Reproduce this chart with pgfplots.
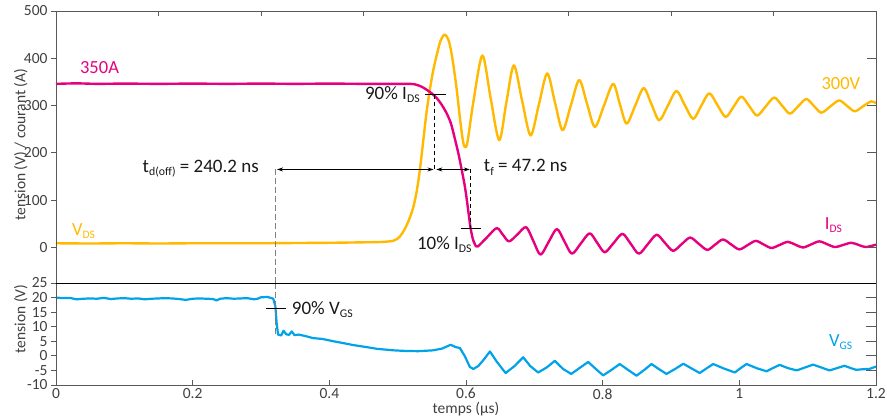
\documentclass[border=0pt]{standalone}
\usepackage{fontspec}
\setmainfont{Carlito}
\usepackage{graphicx}
\usepackage{pgfplots}
\pgfplotsset{compat=1.18}
\usetikzlibrary{arrows.meta}
\definecolor{mag}{HTML}{E6007E}
\definecolor{ora}{HTML}{FFB900}
\definecolor{blu}{HTML}{00A3E8}
\definecolor{axc}{HTML}{595959}
\newcommand\sub[1]{\raisebox{-0.35ex}{\scalebox{0.62}{#1}}}
\pgfplotsset{
  myax/.style={scale only axis, width=820pt, xmin=0, xmax=1.2, clip=false,
    axis line style={draw=axc, line width=0.9pt},
    tick style={draw=axc, line width=0.9pt},
    ticklabel style={font=\fontsize{15.5}{18}\selectfont, text=black!75},
    label style={font=\fontsize{15.5}{18}\selectfont, text=black!75},
    /pgf/number format/assume math mode=true},
}
\tikzset{
  ann/.style={font=\fontsize{19}{22}\selectfont, text=black!90, inner sep=0pt},
  lab/.style={font=\fontsize{18.5}{22}\selectfont, inner sep=0pt},
}
\begin{document}
\begin{tikzpicture}[x=1pt,y=1pt]
\useasboundingbox (-56pt,-35pt) rectangle (831pt,385pt);
% ---------------- lower axis (V_GS) ----------------
\begin{axis}[myax, name=low, at={(0pt,0pt)}, anchor=south west, height=102pt,
  ymin=-10, ymax=25, ytick={-10,-5,0,5,10,15,20,25},
  xtick={0,0.2,0.4,0.6,0.8,1,1.2},
  xtick pos=left, xtick align=inside, ytick pos=left, ytick align=outside,
  major tick length=5pt,
  xlabel={temps (µs)}, ylabel={tension (V)},
  xlabel style={at={(axis description cs:0.5,-0.232)}, anchor=center},
  ylabel style={at={(axis description cs:-0.043,0.647)}, anchor=center}]
\addplot[blu, line width=2.2pt, line join=round] coordinates {
(0,20) (0.01,19.8) (0.02,19.9) (0.03,19.4) (0.04,19.6) (0.05,19.7) (0.06,19.6) (0.07,19.9) (0.08,19.5) (0.09,19.7)
(0.1,19.8) (0.11,19.6) (0.12,19.7) (0.13,19.4) (0.14,19.6) (0.15,19.7) (0.16,19.8) (0.17,19.7) (0.18,19.5) (0.19,19.2)
(0.2,19.6) (0.21,19.7) (0.22,19.6) (0.23,19.5) (0.235,19.0) (0.24,19.6) (0.25,19.8) (0.26,19.6) (0.27,19.7) (0.28,19.8)
(0.29,19.4) (0.295,19.6) (0.30,20.1) (0.31,20.2) (0.318,19.6) (0.321,17) (0.323,11) (0.325,7.3) (0.3295,7) (0.333,8.6)
(0.337,7.4) (0.341,7.2) (0.345,8.4) (0.349,7.1) (0.355,7.3) (0.365,6.8) (0.376,6.1) (0.39,5.8) (0.406,5) (0.42,4.4)
(0.435,3.7) (0.4546,3) (0.47,2.4) (0.4935,1.9) (0.51,1.7) (0.53,1.6) (0.552,1.9) (0.565,2.5) (0.5775,3.8) (0.585,3)
(0.591,2.7) (0.598,0) (0.6057,-3.8) (0.6106,-4.5) (0.618,-3.5) (0.627,-1) (0.635,1.5) (0.645,-2) (0.658,-5.9) (0.671,-3.5)
(0.6837,-0.5) (0.694,-3.5) (0.7056,-5.7) (0.718,-4) (0.730,-1.7) (0.742,-4.5) (0.754,-6.2) (0.766,-4.2) (0.7788,-2.1) (0.79,-4.5)
(0.8007,-6.7) (0.813,-4.8) (0.825,-2.8) (0.837,-4.8) (0.8496,-6.8) (0.861,-4.8) (0.8715,-2.8) (0.882,-4.5) (0.8934,-6.2) (0.906,-4.5)
(0.918,-2.7) (0.93,-4.3) (0.942,-5.9) (0.952,-4.3) (0.9617,-2.8) (0.978,-4.4) (0.9934,-5.7) (1.002,-4.2) (1.0105,-2.8) (1.025,-4.2)
(1.0398,-5.3) (1.049,-4.2) (1.059,-3.1) (1.071,-4.2) (1.084,-5) (1.096,-4) (1.108,-3) (1.12,-4) (1.132,-5) (1.143,-4.2)
(1.154,-3.4) (1.163,-4.2) (1.171,-4.8) (1.18,-4.6) (1.19,-4.5) (1.2,-3.7)
};
\draw[gray, line width=1.2pt, dash pattern=on 6pt off 3pt] (0.3214,25) -- (0.3214,7.3);
\draw[black, line width=0.9pt] (0.307,16.2) -- (0.3365,16.2);
\node[ann, anchor=base west] at (0.345,14.1) {90\% V\sub{GS}};
\node[lab, text=blu, anchor=base west] at (1.131,3.24) {V\sub{GS}};
\end{axis}
\begin{axis}[myax, at={(0pt,0pt)}, anchor=south west, height=102pt,
  ymin=-10, ymax=25, hide x axis, ytick={-5,0,5,10,15,20}, yticklabels={},
  ytick pos=right, ytick align=inside, major tick length=10pt]
\end{axis}
% ---------------- upper axis (V_DS, I_DS) ----------------
\begin{axis}[myax, name=top, at={(0pt,102pt)}, anchor=south west, height=272pt,
  ymin=-75, ymax=500, ytick={0,100,200,300,400,500},
  xtick={0.15,0.3,0.45,0.6,0.75,0.9,1.05}, xticklabels={},
  xtick pos=right, xtick align=inside, ytick pos=left, ytick align=outside,
  major tick length=5pt,
  ylabel={tension (V) / courant (A)},
  ylabel style={at={(axis description cs:-0.043,0.509)}, anchor=center}]
\addplot[ora, line width=2.4pt, smooth, line join=round] coordinates {
(0,9) (0.05,8.5) (0.1,9) (0.15,8.5) (0.2,9) (0.25,9) (0.3,9) (0.35,9.5) (0.4,10) (0.45,11) (0.48,12)
(0.495,15) (0.503,23) (0.51,38) (0.517,60) (0.523,86) (0.528,120) (0.5325,164) (0.537,220) (0.542,283) (0.547,333)
(0.552,374) (0.558,412) (0.563,438) (0.569,450) (0.575,436) (0.580,400) (0.586,339) (0.591,275) (0.595,230) (0.598,213)
(0.602,222) (0.611,310) (0.624,406) (0.636,316) (0.6486,227) (0.659,306) (0.670,385) (0.682,311) (0.6945,237) (0.7066,302)
(0.7188,368) (0.730,308) (0.7413,248) (0.7535,301) (0.7657,354) (0.777,304.5) (0.7886,255) (0.802,300.5) (0.8154,346) (0.825,304)
(0.835,262) (0.8475,299.5) (0.860,337) (0.8714,303) (0.8827,269) (0.8954,300) (0.908,331) (0.920,301.5) (0.9325,272) (0.944,299)
(0.956,326) (0.968,301) (0.980,276) (0.9915,297.5) (1.003,319) (1.0145,299) (1.026,279) (1.0385,298) (1.051,317) (1.0625,300)
(1.074,283) (1.086,298.5) (1.098,314) (1.109,299.5) (1.120,285) (1.133,298) (1.146,311) (1.1575,299.5) (1.169,288) (1.181,298.5)
(1.193,309) (1.2,305)
};
\addplot[mag, line width=2.4pt, smooth, line join=round] coordinates {
(0,346) (0.03,347) (0.06,346) (0.1,346.5) (0.15,346) (0.2,346.5) (0.25,346) (0.3,346.5) (0.35,346) (0.4,346.5) (0.45,346)
(0.5,346) (0.515,346) (0.525,345) (0.535,340) (0.545,331) (0.5545,320) (0.563,305) (0.5716,284) (0.578,262) (0.5837,230)
(0.589,198) (0.5935,166) (0.598,132) (0.6008,105) (0.604,70) (0.6066,42) (0.610,18) (0.613,7) (0.617,2) (0.631,22)
(0.645,41) (0.654,27) (0.663,13) (0.6755,28) (0.688,43) (0.6985,14) (0.709,-15) (0.721,12) (0.733,39) (0.744,13)
(0.755,-13) (0.768,8.5) (0.781,30) (0.792,10) (0.803,-10) (0.816,9.5) (0.829,29) (0.841,8) (0.853,-13) (0.866,7)
(0.879,27) (0.891,10) (0.903,-7) (0.9155,7) (0.928,21) (0.9405,8) (0.953,-5) (0.9645,6) (0.976,17) (0.988,6.5)
(1.000,-4) (1.012,5) (1.024,14) (1.0355,6.5) (1.047,-1) (1.059,5.5) (1.071,12) (1.082,6) (1.093,0) (1.105,6.5)
(1.117,13) (1.1285,7) (1.140,1) (1.152,5.5) (1.164,10) (1.1745,5.5) (1.185,1) (1.2,6)
};
% annotations
\draw[gray, line width=1.2pt, dash pattern=on 6pt off 3pt] (0.3214,165) -- (0.3214,-75);
\draw[black, line width=0.9pt, dash pattern=on 4pt off 3pt] (0.5545,323) -- (0.5545,165);
\draw[black, line width=0.9pt, dash pattern=on 4pt off 3pt] (0.6066,165) -- (0.6066,40);
\draw[black, line width=0.9pt] (0.540,323) -- (0.570,323);
\draw[black, line width=0.9pt] (0.5925,40) -- (0.6218,40);
\draw[black, line width=0.8pt, {Stealth[length=6pt,width=4pt]}-{Stealth[length=6pt,width=4pt]}] (0.3235,165) -- (0.5525,165);
\draw[black, line width=0.8pt, {Stealth[length=6pt,width=4pt]}-{Stealth[length=6pt,width=4pt]}] (0.5565,165) -- (0.6055,165);
\node[ann, anchor=base east] at (0.297,158) {t\sub{d(off)} = 240.2 ns};
\node[ann, anchor=base west] at (0.626,160) {t\sub{f} = 47.2 ns};
\node[ann, anchor=base east] at (0.5325,312.4) {90\% I\sub{DS}};
\node[ann, anchor=base west] at (0.528,-4.8) {10\% I\sub{DS}};
\node[lab, text=mag, anchor=base west] at (0.035,368.4) {350A};
\node[lab, text=ora, anchor=base west] at (0.0234,24.6) {V\sub{DS}};
\node[lab, text=ora, anchor=base west] at (1.120,333.5) {300V};
\node[lab, text=mag, anchor=base west] at (1.125,37.3) {I\sub{DS}};
\draw[black, line width=0.8pt] (rel axis cs:0,0) -- (rel axis cs:1,0);
\end{axis}
\begin{axis}[myax, at={(0pt,102pt)}, anchor=south west, height=272pt,
  ymin=-75, ymax=500, hide x axis, ytick={0,100,200,300,400}, yticklabels={},
  ytick pos=right, ytick align=inside, major tick length=9pt]
\end{axis}
\end{tikzpicture}
\end{document}
